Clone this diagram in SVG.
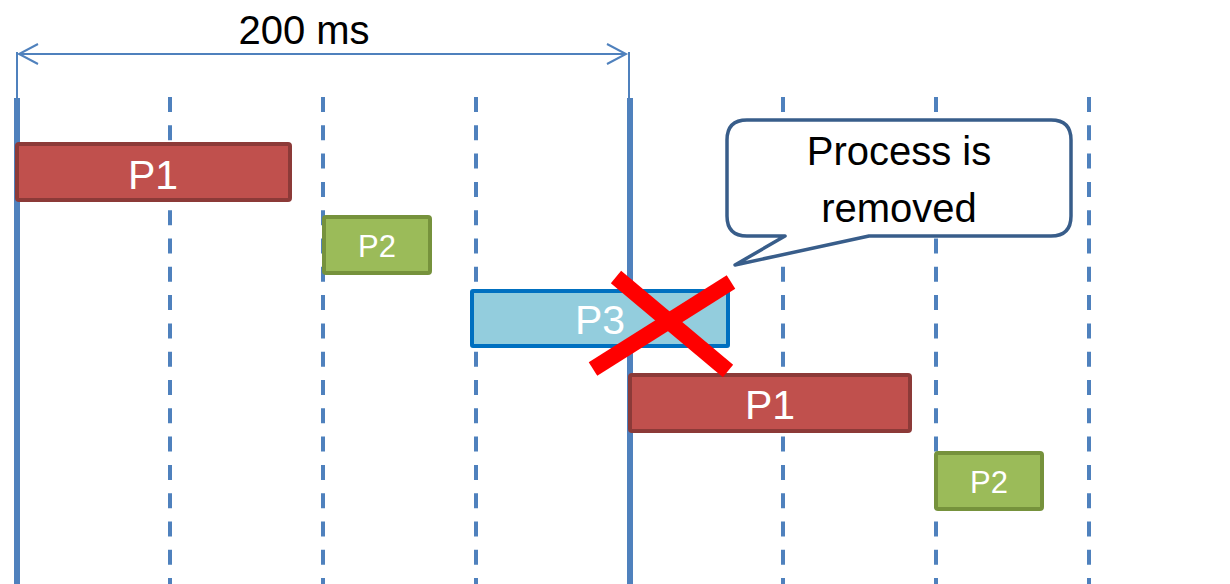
<svg xmlns="http://www.w3.org/2000/svg" width="1230" height="584" viewBox="0 0 1230 584">
  <style>
    .grid { stroke: #4F81BD; stroke-width: 4; stroke-dasharray: 15 13.3; fill: none; }
    .frame { stroke: #4F81BD; stroke-width: 6; fill: none; }
    .dim { stroke: #4F81BD; stroke-width: 2; fill: none; }
    .p1 rect { fill: #C0504D; stroke: #8C3A38; stroke-width: 4; }
    .p2 rect { fill: #9BBB59; stroke: #76923C; stroke-width: 4; }
    .p3 rect { fill: #93CDDD; stroke: #0070C0; stroke-width: 4; }
    .lbl { font-family: "Liberation Sans", Arial, sans-serif; fill: #FFFFFF; text-anchor: middle; }
    .big { font-size: 41px; }
    .small { font-size: 31px; }
    .note { font-family: "Liberation Sans", Arial, sans-serif; font-size: 40px; fill: #000000; text-anchor: middle; }
  </style>

  <!-- time grid -->
  <g id="grid">
    <line class="frame" x1="17" y1="98" x2="17" y2="584"/>
    <line class="frame" x1="630" y1="98" x2="630" y2="584"/>
    <line class="grid" x1="170" y1="97" x2="170" y2="584"/>
    <line class="grid" x1="323" y1="97" x2="323" y2="584"/>
    <line class="grid" x1="476" y1="97" x2="476" y2="584"/>
    <line class="grid" x1="783" y1="97" x2="783" y2="584"/>
    <line class="grid" x1="936" y1="97" x2="936" y2="584"/>
    <line class="grid" x1="1089" y1="97" x2="1089" y2="584"/>
  </g>

  <!-- period dimension -->
  <g id="connectors">
    <line class="dim" x1="17" y1="52" x2="17" y2="98"/>
    <line class="dim" x1="629" y1="52" x2="629" y2="98"/>
    <line class="dim" x1="19" y1="54" x2="626" y2="54"/>
    <polyline class="dim" points="38,44 19,54 38,64"/>
    <polyline class="dim" points="607,44 626,54 607,64"/>
  </g>
  <g id="period-label">
    <text class="note" x="304" y="44" font-size="43">200 ms</text>
  </g>

  <!-- process slots -->
  <g id="p1-first" class="p1">
    <rect x="17" y="144" width="273" height="56" rx="2"/>
    <text class="lbl big" x="153" y="189">P1</text>
  </g>
  <g id="p2-first" class="p2">
    <rect x="324" y="217" width="106" height="56" rx="2"/>
    <text class="lbl small" x="377" y="257">P2</text>
  </g>
  <g id="p3" class="p3">
    <rect x="472" y="291" width="256" height="55" rx="1"/>
    <text class="lbl big" x="600" y="334">P3</text>
  </g>
  <g id="p1-second" class="p1">
    <rect x="630" y="375" width="280" height="56" rx="2"/>
    <text class="lbl big" x="770" y="419">P1</text>
  </g>
  <g id="p2-second" class="p2">
    <rect x="936" y="453" width="106" height="56" rx="2"/>
    <text class="lbl small" x="989" y="493">P2</text>
  </g>

  <!-- removal mark -->
  <g id="cross">
    <line x1="616" y1="277" x2="728" y2="371" stroke="#FF0000" stroke-width="16"/>
    <line x1="731" y1="282" x2="593" y2="369" stroke="#FF0000" stroke-width="16"/>
  </g>

  <!-- callout -->
  <g id="callout">
    <path d="M 747,120 H 1051 Q 1071,120 1071,140 V 216 Q 1071,236 1051,236 H 869 L 735,265 L 785,236 H 747 Q 727,236 727,216 V 140 Q 727,120 747,120 Z" fill="#FFFFFF" stroke="#385D8A" stroke-width="3.5" stroke-linejoin="round"/>
    <text class="note" x="899" y="165">Process is</text>
    <text class="note" x="899" y="222">removed</text>
  </g>
</svg>
